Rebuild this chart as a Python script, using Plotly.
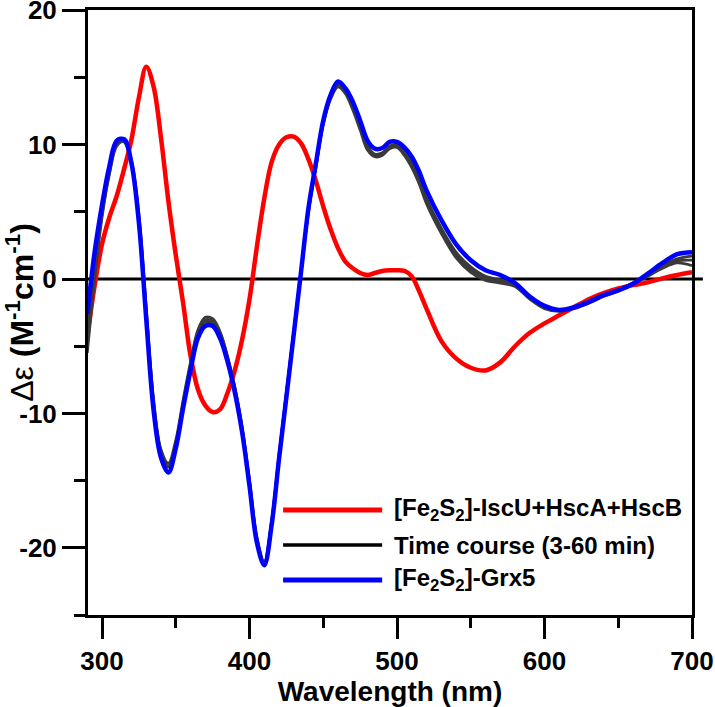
import plotly.graph_objects as go

# Wavelength grid (nm)
wavelength = [290, 295, 300, 305, 310, 315, 320, 325, 330, 335, 340, 345, 350, 355, 360,
              365, 370, 375, 380, 385, 390, 395, 400, 405, 410, 415, 420, 425, 430, 435,
              440, 445, 450, 455, 460, 465, 470, 475, 480, 485, 490, 495, 500, 505, 510,
              515, 520, 530, 540, 550, 560, 570, 580, 590, 600, 610, 620, 630, 640, 650,
              660, 670, 680, 690, 700]

iscu_hsc = [-4.3, -0.5, 2.6, 4.6, 6.2, 8.2, 10.4, 13.5, 15.8, 14.3, 10.5, 5.8, 1.8, -1.8, -5.7,
            -8.2, -9.4, -9.9, -9.7, -8.5, -6.8, -4.5, -1.5, 2.4, 6.0, 8.7, 10.0, 10.55, 10.6, 10.1,
            8.9, 7.3, 5.4, 3.7, 2.3, 1.3, 0.8, 0.45, 0.3, 0.45, 0.6, 0.65, 0.65, 0.6, 0.2,
            -0.9, -2.2, -4.6, -5.9, -6.6, -6.8, -6.2, -5.0, -4.0, -3.3, -2.7, -2.1, -1.5, -1.05, -0.7,
            -0.45, -0.25, 0.05, 0.3, 0.5]

grx5 = [-2.6, 2.0, 5.5, 8.4, 10.3, 10.4, 8.6, 4.2, -3.0, -9.8, -13.3, -14.4, -12.6, -9.6, -6.8,
        -4.4, -3.5, -3.5, -4.4, -6.1, -8.4, -11.4, -15.4, -19.6, -21.3, -18.3, -13.4, -8.8, -4.1, 0.6,
        5.3, 8.6, 11.8, 13.7, 14.7, 14.2, 13.2, 11.8, 10.3, 9.7, 9.75, 10.2, 10.2, 9.8, 9.1,
        8.0, 6.6, 4.4, 2.6, 1.4, 0.65, 0.3, -0.3, -1.3, -2.0, -2.3, -2.1, -1.7, -1.2, -0.85,
        -0.35, 0.4, 1.2, 1.85, 2.0]

time_3min = [-3.5, 1.0, 5.0, 8.0, 10.0, 10.2, 8.5, 4.4, -2.6, -9.4, -12.9, -14.0, -12.3, -9.3, -6.5,
             -4.1, -3.2, -3.3, -4.2, -5.9, -8.2, -11.2, -15.2, -19.4, -21.1, -18.1, -13.2, -8.6, -4.0, 0.5,
             5.1, 8.4, 11.6, 13.5, 14.5, 14.0, 12.9, 11.4, 9.9, 9.3, 9.4, 9.9, 10.0, 9.6, 8.7,
             7.5, 6.0, 3.8, 2.0, 0.9, 0.2, -0.05, -0.4, -1.3, -2.0, -2.3, -2.1, -1.7, -1.2, -0.8,
             -0.3, 0.3, 1.0, 1.5, 1.7]

time_20min = [-4.5, 0.5, 4.8, 7.9, 10.0, 10.3, 8.7, 4.6, -2.4, -9.2, -12.8, -13.9, -12.2, -9.2, -6.4,
              -4.0, -3.05, -3.15, -4.0, -5.8, -8.1, -11.1, -15.1, -19.3, -21.1, -18.1, -13.2, -8.5, -3.9, 0.6,
              5.1, 8.4, 11.6, 13.5, 14.4, 13.9, 12.8, 11.3, 9.8, 9.2, 9.3, 9.8, 9.9, 9.4, 8.5,
              7.3, 5.8, 3.6, 1.8, 0.7, 0.05, -0.2, -0.5, -1.4, -2.1, -2.35, -2.15, -1.75, -1.25, -0.85,
              -0.35, 0.25, 0.9, 1.35, 1.4]

time_60min = [-5.5, 0.0, 4.6, 7.8, 9.9, 10.3, 8.8, 4.8, -2.2, -9.0, -12.7, -13.7, -12.0, -9.0, -6.2,
              -3.8, -2.85, -2.95, -3.9, -5.7, -8.0, -11.0, -15.0, -19.2, -21.0, -18.0, -13.1, -8.5, -3.9, 0.6,
              5.0, 8.3, 11.5, 13.4, 14.3, 13.8, 12.6, 11.1, 9.6, 9.1, 9.2, 9.7, 9.8, 9.2, 8.3,
              7.1, 5.6, 3.4, 1.6, 0.5, -0.1, -0.3, -0.55, -1.5, -2.2, -2.4, -2.2, -1.8, -1.3, -0.9,
              -0.4, 0.2, 0.8, 1.2, 1.0]

legend_labels = ["[Fe<sub>2</sub>S<sub>2</sub>]-IscU+HscA+HscB",
                 "Time course (3-60 min)",
                 "[Fe<sub>2</sub>S<sub>2</sub>]-Grx5"]
legend_colors = ["#ff0000", "#000000", "#0000ff"]
legend_widths = [5, 3.5, 5]

x_ticks = [300, 400, 500, 600, 700]
x_tick_labels = ["300", "400", "500", "600", "700"]
y_ticks = [-20, -10, 0, 10, 20]
y_tick_labels = ["-20", "-10", "0", "10", "20"]

FONT = "Liberation Sans, Arial, sans-serif"

fig = go.Figure()
fig.add_trace(go.Scatter(x=wavelength, y=iscu_hsc, mode="lines", line=dict(color="#ff0000", width=4.5, shape="spline", smoothing=1.0), showlegend=False))
for series in (time_3min, time_20min, time_60min):
    fig.add_trace(go.Scatter(x=wavelength, y=series, mode="lines", line=dict(color="#3a3a3a", width=2.8, shape="spline", smoothing=1.0), showlegend=False))
fig.add_trace(go.Scatter(x=wavelength, y=grx5, mode="lines", line=dict(color="#0000ff", width=4.5, shape="spline", smoothing=1.0), showlegend=False))

# zero line
fig.add_shape(type="line", xref="x domain", yref="y", x0=0, x1=1.018, y0=0, y1=0,
              line=dict(color="black", width=3), layer="below")

# custom legend
leg_y = [0.1736, 0.1157, 0.0579]
for lab, col, w, yy in zip(legend_labels, legend_colors, legend_widths, leg_y):
    fig.add_shape(type="line", xref="paper", yref="paper", x0=0.323, x1=0.487, y0=yy, y1=yy,
                  line=dict(color=col, width=w))
    fig.add_annotation(xref="paper", yref="paper", x=0.503, y=yy, text=lab, showarrow=False,
                       xanchor="left", yanchor="middle",
                       font=dict(family=FONT, size=24, color="black", weight="bold"))

fig.update_layout(
    width=715, height=707,
    margin=dict(l=88, r=23, t=10, b=92, autoexpand=False),
    paper_bgcolor="white", plot_bgcolor="white",
    showlegend=False,
)
fig.update_xaxes(
    range=[290.5, 700], tickvals=x_ticks, ticktext=x_tick_labels,
    ticks="outside", ticklen=21, tickwidth=3, tickcolor="black",
    minor=dict(dtick=50, tick0=300, ticks="outside", ticklen=10, tickwidth=3, tickcolor="black"),
    showline=True, linewidth=3, linecolor="black", mirror=True, showgrid=False, zeroline=False,
    automargin=False, ticklabeloverflow="allow",
    tickfont=dict(family=FONT, size=26, color="black", weight="bold"),
    title=dict(text="Wavelength (nm)", font=dict(family=FONT, size=28, color="black", weight="bold"), standoff=0),
)
fig.update_yaxes(
    range=[-25, 20.02], tickvals=y_ticks, ticktext=y_tick_labels,
    ticks="outside", ticklen=23, tickwidth=3, tickcolor="black",
    minor=dict(dtick=5, tick0=0, ticks="outside", ticklen=11, tickwidth=3, tickcolor="black"),
    showline=True, linewidth=3, linecolor="black", mirror=True, showgrid=False, zeroline=False,
    automargin=False, ticklabeloverflow="allow",
    tickfont=dict(family=FONT, size=26, color="black", weight="bold"),
    title=dict(text="Δε <b>(M<sup>-1</sup>cm<sup>-1</sup>)</b>", font=dict(family=FONT, size=32, color="black"), standoff=2),
)

fig.write_html("out.html", config={"displayModeBar": False},
               post_script="document.body.style.margin='0px';")
